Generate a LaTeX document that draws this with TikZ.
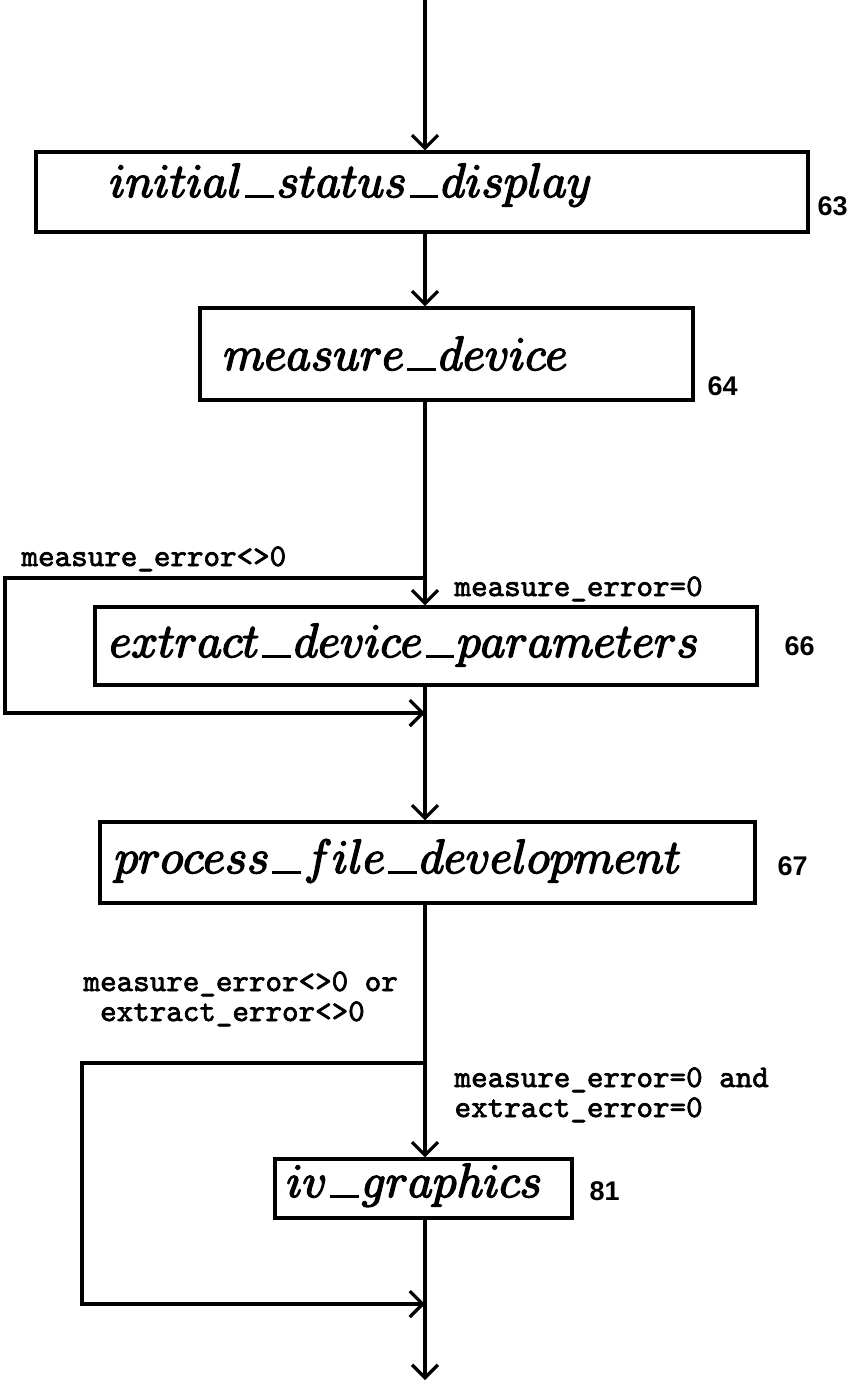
\RequirePackage{fix-cm}
\documentclass[tikz,border=0pt]{standalone}
\usetikzlibrary{arrows.meta,calc}
% low wide underscore used in the procedure names
\newcommand\us{\kern0.06em\rule[-0.03em]{0.6em}{0.08em}\kern0.06em}
% procedure names: math italic, filled and stroked for a heavier print
\newcommand\procname[1]{\special{pdf:literal direct 2 Tr 1.6 w 1 j}\ensuremath{#1}\special{pdf:literal direct 0 Tr}}
% heavy slab typewriter for the branch conditions, bold sans for the reference numbers
\font\condfnt="[lmmono10-regular.otf]:embolden=2.2" at 31.5pt
\font\numfnt="Liberation Sans/B" at 27pt
\newcommand\condsetup{\condfnt\baselineskip30pt\relax}
\begin{document}
\begin{tikzpicture}[x=1pt,y=-1pt,
  line width=3.2pt,
  box/.style={draw,rectangle,inner sep=0pt,line width=3.2pt},
  proc/.style={anchor=base west,inner sep=0pt,font=\fontsize{48}{56}\selectfont},
  cond/.style={anchor=base west,inner sep=0pt,align=left,font=\condsetup},
  refnum/.style={anchor=base west,inner sep=0pt,font=\numfnt},
  arr/.style={-{Straight Barb[length=13pt,width=26pt,line width=3.2pt]}},
]
\useasboundingbox (0,0) rectangle (856,1382);

% boxes
\node[box,minimum width=772pt,minimum height=80pt] (b1) at (422,192) {};
\node[box,minimum width=493pt,minimum height=92pt] (b2) at (446.5,354) {};
\node[box,minimum width=662pt,minimum height=78pt] (b3) at (426,646) {};
\node[box,minimum width=655pt,minimum height=81pt] (b4) at (427.5,862.5) {};
\node[box,minimum width=297pt,minimum height=59pt] (b5) at (423.5,1188.5) {};

% procedure names
\node[proc] (t1) at (108,197) {\procname{initial\us status\us display}};
\node[proc] (t2) at (222,370) {\procname{measure\us device}};
\node[proc] (t3) at (108,657) {\procname{extract\us device\us parameters}};
\node[proc] (t4) at (113,873) {\procname{process\us file\us development}};
\node[proc] (t5) at (285,1197) {\procname{iv\us graphics}};

% reference numbers
\node[refnum] (n1) at (816,215) {63};
\node[refnum] (n2) at (706,395) {64};
\node[refnum] (n3) at (783,655) {66};
\node[refnum] (n4) at (776,875) {67};
\node[refnum] (n5) at (588,1200) {81};

% junction points on the main flow line
\coordinate (top) at (425,0);
\coordinate (s1) at (425,578);
\coordinate (j1) at (425,713);
\coordinate (s2) at (425,1063);
\coordinate (j2) at (425,1304);
\coordinate (bottom) at (425,1380);
\coordinate (l1a) at (5,578);
\coordinate (l1b) at (5,713);
\coordinate (l2a) at (82,1063);
\coordinate (l2b) at (82,1304);

% main flow
\draw[arr] (top) -- (top |- b1.north);
\draw[arr] (top |- b1.south) -- (top |- b2.north);
\draw[arr] (top |- b2.south) -- (top |- b3.north);
\draw[arr] (top |- b3.south) -- (top |- b4.north);
\draw[arr] (top |- b4.south) -- (top |- b5.north);
\draw (top |- b5.south) -- (j2);
\draw[arr] (j2) -- (bottom);

% bypass loops
\draw[arr] (s1) -- (l1a) -- (l1b) -- (j1);
\draw[arr] (s2) -- (l2a) -- (l2b) -- (j2);

% conditions
\node[cond] (c1) at (20,566) {measure\_error<>0};
\node[cond] (c2) at (453,596) {measure\_error=0};
\node[cond] (c3) at (82,1021) {measure\_error<>0 or\\\hspace*{0.525em}extract\_error<>0};
\node[cond] (c4) at (453,1117) {measure\_error=0 and\\extract\_error=0};
\end{tikzpicture}
\end{document}
